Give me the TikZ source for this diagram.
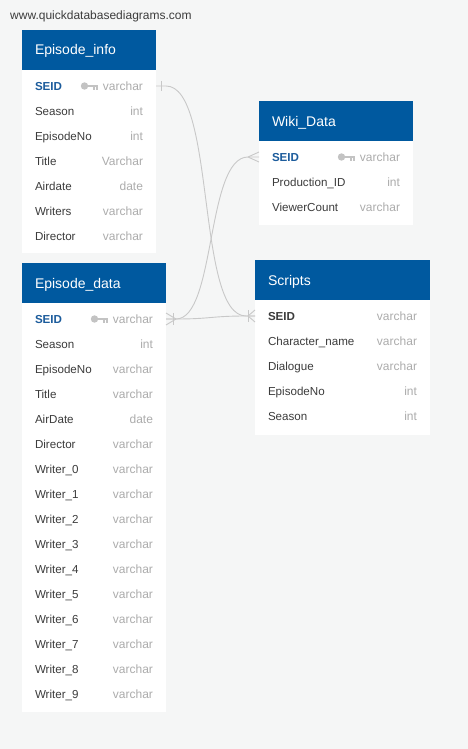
\documentclass[tikz,border=0pt]{standalone}
\usepackage{fontspec}
\setmainfont{Liberation Sans}
\usetikzlibrary{positioning}
\usepackage{xcolor}
\definecolor{canvasgray}{RGB}{245,246,246}
\definecolor{headblue}{RGB}{0,89,159}
\definecolor{keyblue}{RGB}{28,92,156}
\definecolor{namegray}{RGB}{60,60,60}
\definecolor{typegray}{RGB}{172,172,172}
\definecolor{linkgray}{RGB}{200,200,200}
\definecolor{icongray}{RGB}{195,195,195}

\newcommand{\fieldrow}[2]{{\color{namegray}#1}\hfill{\fontsize{12}{14}\selectfont\color{typegray}#2}}
\newcommand{\pkname}[1]{\textcolor{keyblue}{\textbf{#1}}}

\begin{document}
\begin{tikzpicture}[x=1pt, y=-1pt, font=\fontsize{11.6}{13}\selectfont,
  tablehead/.style={rectangle, fill=headblue, text=white, anchor=north west, inner xsep=13pt, inner ysep=0pt, outer sep=0pt, minimum height=40pt, text height=11.5pt, text depth=1.5pt, font=\fontsize{14}{16}\selectfont},
  tablebody/.style={rectangle, fill=white, inner sep=0pt, outer sep=0pt},
  fieldbox/.style={rectangle, inner xsep=13pt, inner ysep=0pt, outer sep=0pt, minimum height=25pt, text height=9.6pt, text depth=1.4pt},
  link/.style={draw=linkgray, line width=0.9pt},
  pkkey/.pic={
    \fill[icongray] (-4.5,0) circle (3.7);
    \fill[icongray] (-2,-1.4) rectangle (8.5,1.4);
    \fill[icongray] (4,1.4) rectangle (5.6,3.8);
    \fill[icongray] (6.9,1.4) rectangle (8.5,3.8);
  }]
\fill[canvasgray] (0,0) rectangle (468,749);
\useasboundingbox (0,0) rectangle (468,749);

\node[anchor=base west, inner sep=0pt, text=namegray, font=\fontsize{12}{14}\selectfont] (site) at (10,19.5) {www.quickdatabasediagrams.com};

% Episode_info
\node[tablehead, text width=108pt] (info) at (22,30) {Episode\_info};
\node[tablebody, minimum width=134pt, minimum height=183pt, below=0pt of info] (info-body) {};
\node[fieldbox, text width=108pt, below=3.5pt of info] (info-1) {\fieldrow{\pkname{SEID}}{varchar}};
\foreach \fname/\ftype [count=\i from 2] in {Season/int, EpisodeNo/int, Title/Varchar, Airdate/date, Writers/varchar, Director/varchar} {
  \pgfmathtruncatemacro\j{\i-1}
  \node[fieldbox, text width=108pt, below=0pt of info-\j] (info-\i) {\fieldrow{\fname}{\ftype}};
}
\pic at ([xshift=-67pt]info-1.east) {pkkey};

% Wiki_Data
\node[tablehead, text width=128pt] (wiki) at (259,101) {Wiki\_Data};
\node[tablebody, minimum width=154pt, minimum height=84pt, below=0pt of wiki] (wiki-body) {};
\node[fieldbox, text width=128pt, below=3.5pt of wiki] (wiki-1) {\fieldrow{\pkname{SEID}}{varchar}};
\foreach \fname/\ftype [count=\i from 2] in {Production\_ID/int, ViewerCount/varchar} {
  \pgfmathtruncatemacro\j{\i-1}
  \node[fieldbox, text width=128pt, below=0pt of wiki-\j] (wiki-\i) {\fieldrow{\fname}{\ftype}};
}
\pic at ([xshift=-67pt]wiki-1.east) {pkkey};

% Episode_data
\node[tablehead, text width=118pt] (data) at (22,263) {Episode\_data};
\node[tablebody, minimum width=144pt, minimum height=409pt, below=0pt of data] (data-body) {};
\node[fieldbox, text width=118pt, below=3.5pt of data] (data-1) {\fieldrow{\pkname{SEID}}{varchar}};
\foreach \fname/\ftype [count=\i from 2] in {Season/int, EpisodeNo/varchar, Title/varchar, AirDate/date, Director/varchar,
    Writer\_0/varchar, Writer\_1/varchar, Writer\_2/varchar, Writer\_3/varchar, Writer\_4/varchar,
    Writer\_5/varchar, Writer\_6/varchar, Writer\_7/varchar, Writer\_8/varchar, Writer\_9/varchar} {
  \pgfmathtruncatemacro\j{\i-1}
  \node[fieldbox, text width=118pt, below=0pt of data-\j] (data-\i) {\fieldrow{\fname}{\ftype}};
}
\pic at ([xshift=-67pt]data-1.east) {pkkey};

% Scripts
\node[tablehead, text width=149pt] (scr) at (255,260) {Scripts};
\node[tablebody, minimum width=175pt, minimum height=135pt, below=0pt of scr] (scr-body) {};
\node[fieldbox, text width=149pt, below=3.5pt of scr] (scr-1) {\fieldrow{\textbf{SEID}}{varchar}};
\foreach \fname/\ftype [count=\i from 2] in {Character\_name/varchar, Dialogue/varchar, EpisodeNo/int, Season/int} {
  \pgfmathtruncatemacro\j{\i-1}
  \node[fieldbox, text width=149pt, below=0pt of scr-\j] (scr-\i) {\fieldrow{\fname}{\ftype}};
}

% links
\draw[link] (info-1.east) -- ++(10,0) .. controls +(50,0) and +(-50,0) .. ([xshift=-9pt]scr-1.west) -- (scr-1.west);
\draw[link] (data-1.east) -- ++(10,0) .. controls +(40,0) and +(-42,0) .. ([xshift=-11pt]wiki-1.west) -- (wiki-1.west);
\draw[link] (data-1.east) -- ++(10,0) .. controls +(35,0) and +(-35,0) .. ([xshift=-9pt]scr-1.west) -- (scr-1.west);

% ends
\draw[link] ([xshift=5pt,yshift=5pt]info-1.east) -- ([xshift=5pt,yshift=-5pt]info-1.east);
\draw[link] ([xshift=-11pt]wiki-1.west) -- ([yshift=5pt]wiki-1.west)
  ([xshift=-11pt]wiki-1.west) -- ([yshift=-5pt]wiki-1.west);
\draw[link] ([xshift=10pt]data-1.east) -- ([yshift=6pt]data-1.east)
  ([xshift=10pt]data-1.east) -- ([yshift=-6pt]data-1.east);
\draw[link] ([xshift=7pt,yshift=6pt]data-1.east) -- ([xshift=7pt,yshift=-6pt]data-1.east);
\draw[link] ([xshift=-7pt]scr-1.west) -- ([yshift=6pt]scr-1.west)
  ([xshift=-7pt]scr-1.west) -- ([yshift=-6pt]scr-1.west);
\draw[link] ([xshift=-7pt,yshift=6pt]scr-1.west) -- ([xshift=-7pt,yshift=-6pt]scr-1.west);
\end{tikzpicture}
\end{document}
